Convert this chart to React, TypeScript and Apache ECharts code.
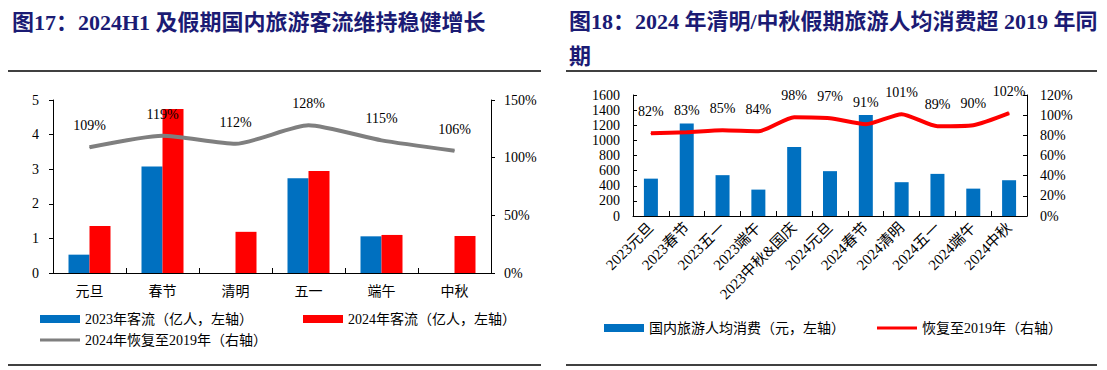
import React, { useEffect, useRef } from 'react';
import * as echarts from 'echarts';

// ---- Chart 17 data ----
const catsL = ['元旦', '春节', '清明', '五一', '端午', '中秋'];
const flow2023 = [0.53, 3.08, null, 2.74, 1.06, null];
const flow2024 = [1.36, 4.74, 1.19, 2.95, 1.1, 1.07];
const recov2024 = [109, 119, 112, 128, 115, 106];
const ticksLeftL = { min: 0, max: 5, interval: 1 };
const ticksRightL = { min: 0, max: 150, interval: 50 };

// ---- Chart 18 data ----
const catsR = [
  '2023元旦', '2023春节', '2023五一', '2023端午', '2023中秋&国庆',
  '2024元旦', '2024春节', '2024清明', '2024五一', '2024端午', '2024中秋',
];
const spend = [494, 1224, 540, 349, 911, 593, 1335, 447, 557, 362, 473];
const recov = [82, 83, 85, 84, 98, 97, 91, 101, 89, 90, 102];
const ticksLeftR = { min: 0, max: 1600, interval: 200 };
const ticksRightR = { min: 0, max: 120, interval: 20 };

const nameB23 = '2023年客流（亿人，左轴）';
const nameR24 = '2024年客流（亿人，左轴）';
const nameG24 = '2024年恢复至2019年（右轴）';
const nameSpend = '国内旅游人均消费（元，左轴）';
const nameRec = '恢复至2019年（右轴）';

const title17 = '图17：2024H1 及假期国内旅游客流维持稳健增长';
const title18 = '图18：2024 年清明/中秋假期旅游人均消费超 2019 年同\n期';

const SERIF = "'Liberation Serif','Times New Roman','Noto Sans CJK SC',serif";
const BLUE = '#0070C0';
const RED = '#FF0000';
const GRAY = '#7F7F7F';
const NAVY = '#1b1b74';

export default function App() {
  const ref = useRef<HTMLDivElement>(null);
  useEffect(() => {
    const chart = echarts.init(ref.current!, null, { renderer: 'svg' });
    const axisLine = { show: true, lineStyle: { color: '#000', width: 1 } };
    const lbl = { color: '#000', fontSize: 14, fontFamily: SERIF };
    const tickOut = { show: true, length: 4, lineStyle: { color: '#000' } };
    const tickIn = { show: true, inside: true, length: 5, lineStyle: { color: '#000' } };
    const plain = (v: number) => String(v);
    const pct = (v: number) => v + '%';
    const lineLabel = {
      show: true,
      position: 'top',
      distance: 14,
      formatter: (p: any) => p.value + '%',
      ...lbl,
    };
    const legendBase = {
      padding: 0,
      itemWidth: 40,
      itemHeight: 8,
      itemGap: 0,
      itemTextGap: 4,
      textStyle: lbl,
      selectedMode: false,
    };
    const option: any = {
      animation: false,
      backgroundColor: '#fff',
      title: [
        {
          text: title17,
          left: 12,
          top: 10,
          padding: 0,
          textStyle: { color: NAVY, fontSize: 22, fontWeight: 'bold', fontFamily: SERIF, lineHeight: 24 },
        },
        {
          text: title18,
          left: 569,
          top: 4,
          padding: 0,
          textStyle: { color: NAVY, fontSize: 22, fontWeight: 'bold', fontFamily: SERIF, lineHeight: 35 },
        },
      ],
      graphic: [
        { type: 'line', shape: { x1: 8, y1: 71, x2: 541, y2: 71 }, style: { stroke: '#000', lineWidth: 1.5 } },
        { type: 'line', shape: { x1: 566, y1: 71, x2: 1097, y2: 71 }, style: { stroke: '#000', lineWidth: 1.5 } },
        { type: 'line', shape: { x1: 8, y1: 365, x2: 541, y2: 365 }, style: { stroke: '#000', lineWidth: 1.5 } },
        { type: 'line', shape: { x1: 566, y1: 365, x2: 1097, y2: 365 }, style: { stroke: '#000', lineWidth: 1.5 } },
      ],
      legend: [
        { ...legendBase, left: 40, top: 312, data: [{ name: nameB23, icon: 'rect' }] },
        { ...legendBase, left: 303, top: 312, data: [{ name: nameR24, icon: 'rect' }] },
        { ...legendBase, left: 40, top: 333, itemHeight: 3, data: [{ name: nameG24, icon: 'rect' }] },
        { ...legendBase, left: 604, top: 321, data: [{ name: nameSpend, icon: 'rect' }] },
        { ...legendBase, left: 877, top: 321, itemHeight: 3, data: [{ name: nameRec, icon: 'rect' }] },
      ],
      grid: [
        { left: 53, top: 100, width: 438, height: 173 },
        { left: 633, top: 95, width: 394, height: 121 },
      ],
      xAxis: [
        {
          type: 'category', gridIndex: 0, data: catsL,
          axisLine, axisTick: tickIn, axisLabel: { ...lbl, margin: 11 },
        },
        {
          type: 'category', gridIndex: 1, data: catsR,
          axisLine, axisTick: tickIn, axisLabel: { ...lbl, fontSize: 15, rotate: 45, margin: 9, interval: 0 },
        },
      ],
      yAxis: [
        {
          type: 'value', gridIndex: 0, ...ticksLeftL,
          axisLine, axisTick: tickOut, splitLine: { show: false }, axisLabel: { ...lbl, margin: 14, formatter: plain },
        },
        {
          type: 'value', gridIndex: 0, position: 'right', ...ticksRightL,
          axisLine, axisTick: tickOut, splitLine: { show: false }, axisLabel: { ...lbl, margin: 13, formatter: pct },
        },
        {
          type: 'value', gridIndex: 1, ...ticksLeftR,
          axisLine, axisTick: { ...tickIn, length: 4 }, splitLine: { show: false }, axisLabel: { ...lbl, margin: 13, formatter: plain },
        },
        {
          type: 'value', gridIndex: 1, position: 'right', ...ticksRightR,
          axisLine, axisTick: { ...tickIn, length: 4 }, splitLine: { show: false }, axisLabel: { ...lbl, margin: 13, formatter: pct },
        },
      ],
      series: [
        {
          name: nameB23, type: 'bar', xAxisIndex: 0, yAxisIndex: 0, data: flow2023,
          barWidth: 21, barGap: '0%', itemStyle: { color: BLUE },
        },
        {
          name: nameR24, type: 'bar', xAxisIndex: 0, yAxisIndex: 0, data: flow2024,
          barWidth: 21, barGap: '0%', itemStyle: { color: RED },
        },
        {
          name: nameG24, type: 'line', xAxisIndex: 0, yAxisIndex: 1, data: recov2024,
          symbol: 'circle', symbolSize: 1, showSymbol: true, showAllSymbol: true, smooth: 0.2,
          lineStyle: { color: GRAY, width: 4 }, itemStyle: { color: GRAY },
          label: lineLabel, z: 5,
        },
        {
          name: nameSpend, type: 'bar', xAxisIndex: 1, yAxisIndex: 2, data: spend,
          barWidth: 14, itemStyle: { color: BLUE },
        },
        {
          name: nameRec, type: 'line', xAxisIndex: 1, yAxisIndex: 3, data: recov,
          symbol: 'circle', symbolSize: 1, showSymbol: true, showAllSymbol: true, smooth: 0.2,
          lineStyle: { color: RED, width: 4 }, itemStyle: { color: RED },
          label: lineLabel, z: 5,
        },
      ],
    };
    chart.setOption(option);
    return () => chart.dispose();
  }, []);
  return (
    <div
      ref={ref}
      style={{ position: 'absolute', left: 0, top: 0, width: 1107, height: 370, background: '#fff' }}
    />
  );
}
